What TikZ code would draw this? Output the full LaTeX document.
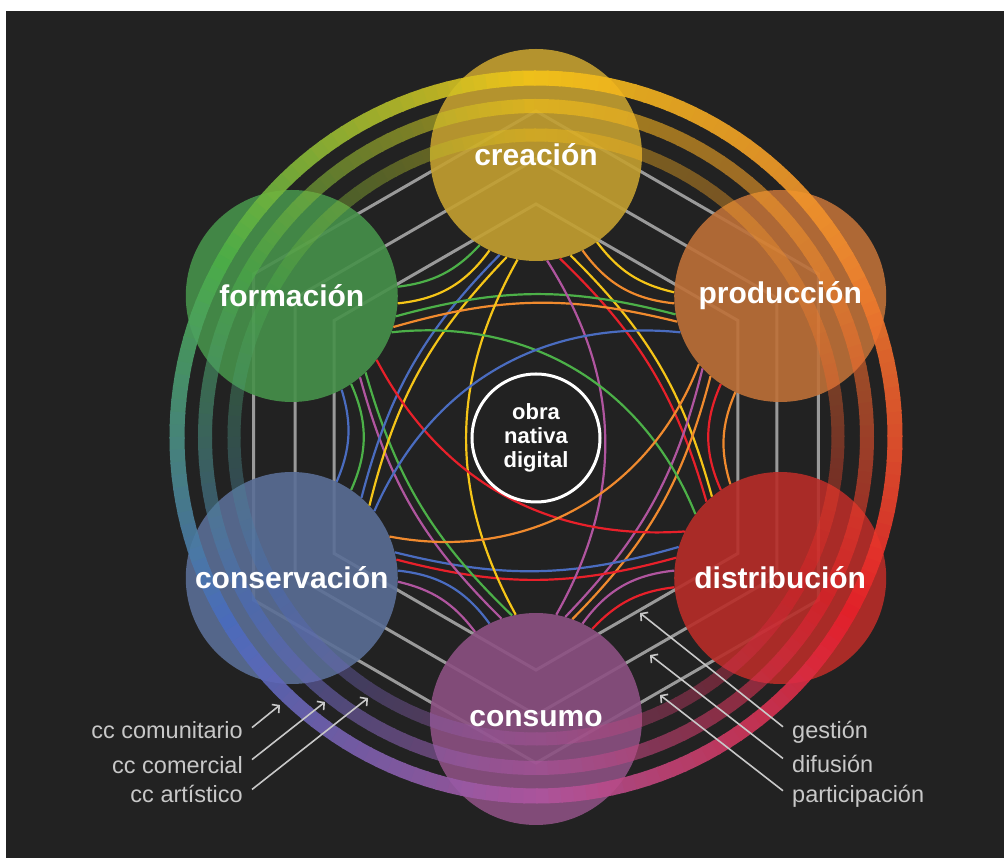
\documentclass[tikz,border=0pt]{standalone}
\usepackage{fontspec}
\setmainfont{Liberation Sans}
\usetikzlibrary{arrows.meta}
\definecolor{bgdark}{HTML}{222222}
\definecolor{crecol}{HTML}{C4A030}
\definecolor{procol}{HTML}{BE7038}
\definecolor{discol}{HTML}{B82D28}
\definecolor{cnmcol}{HTML}{8C5082}
\definecolor{cnscol}{HTML}{5A6E96}
\definecolor{forcol}{HTML}{46914A}
\definecolor{rcre}{HTML}{F5C518}
\definecolor{rpro}{HTML}{F08A2E}
\definecolor{rdis}{HTML}{E8202A}
\definecolor{rcnm}{HTML}{B0559F}
\definecolor{rcns}{HTML}{4A6CC0}
\definecolor{rfor}{HTML}{4CB048}
\definecolor{hexgrey}{HTML}{9A9A9A}
\definecolor{notegrey}{HTML}{C8C8C8}
\tikzset{stage/.style={circle, minimum size=212pt, inner sep=0pt, fill opacity=0.9},
  stagetext/.style={text=white, font=\bfseries\fontsize{30}{30}\selectfont},
  link/.style={line width=2.2pt},
  hexline/.style={draw=hexgrey, line width=3pt},
  note/.style={text=notegrey, inner sep=0pt, font=\fontsize{23.5}{23.5}\selectfont},
  pointer/.style={draw=notegrey, line width=1.6pt, -{Straight Barb[length=5pt, width=11pt]}}}

\begin{document}
\begin{tikzpicture}[x=1pt, y=1pt]
  \fill[white] (-536,-421) rectangle (468,437);
  \fill[bgdark] (-530,-421) rectangle (468,426);
  \foreach \r in {233,278,326}
    \draw[hexline] (90:\r) -- (30:\r) -- (-30:\r) -- (-90:\r) -- (-150:\r) -- (150:\r) -- cycle;
  \foreach \n/\a/\c in {cre/90/crecol, pro/30/procol, dis/-30/discol, cnm/-90/cnmcol, cns/-150/cnscol, for/150/forcol}
    \node[stage, fill=\c] (\n) at (\a:282) {};
  % neighbours, bent inwards
  \foreach \p/\pa/\q/\qa/\c/\b in {cre/305/pro/178/rcre/20, cre/296/pro/184/rpro/24,
      pro/245/dis/118/rpro/20, pro/236/dis/124/rdis/24, dis/185/cnm/58/rdis/20, dis/176/cnm/64/rcnm/24,
      cnm/125/cns/358/rcnm/20, cnm/116/cns/4/rcns/24, cns/65/for/298/rcns/20, cns/56/for/304/rfor/24,
      for/5/cre/238/rfor/20, for/356/cre/244/rcre/24}
    \draw[link, draw=\c] (\p.\pa) to[bend right=\b] (\q.\qa);
  % second neighbours, bent outwards
  \foreach \p/\pa/\q/\qa/\c in {cre/289/dis/130/rcre, cre/283/dis/134/rdis, pro/229/cnm/70/rpro, pro/223/cnm/74/rcnm,
      dis/169/cns/10/rdis, dis/163/cns/14/rcns, cnm/109/for/310/rcnm, cnm/103/for/314/rfor,
      cns/49/cre/250/rcns, cns/43/cre/254/rcre, for/349/pro/190/rfor, for/343/pro/194/rpro}
    \draw[link, draw=\c] (\p.\pa) to[bend left=15] (\q.\qa);
  % opposites
  \draw[link, draw=rcre] (cre.260) to[bend right=29] (cnm.101);
  \draw[link, draw=rcnm] (cre.276) to[bend left=31] (cnm.79);
  \draw[link, draw=rfor] (for.-20) to[bend left=37] (dis.143);
  \draw[link, draw=rdis] (for.-37) to[bend right=33] (dis.154);
  \draw[link, draw=rcns] (pro.200) to[bend right=36] (cns.39);
  \draw[link, draw=rpro] (pro.220) to[bend left=40] (cns.23);
  \foreach \r/\w/\o in {359/15/0.9, 331/14/0.6, 302/13/0.42} {
    \begin{scope}[transparency group, opacity=\o]
      \foreach \s/\ca/\cb in {0/rcre/rfor, 1/rfor/rcns, 2/rcns/rcnm, 3/rcnm/rdis, 4/rdis/rpro, 5/rpro/rcre}
        \foreach \i in {0,...,29} {
          \pgfmathtruncatemacro\m{100-\i*100/30}
          \draw[line width=\w pt, draw=\ca!\m!\cb] (90+\s*60+\i*2:\r) arc[start angle=90+\s*60+\i*2, delta angle=2.3, radius=\r];
        }
    \end{scope}
  }
  \foreach \n/\t in {cre/creación, pro/producción, dis/distribución, cnm/consumo, cns/conservación, for/formación}
    \node[stagetext] (\n-t) at (\n) {\t};
  \node[circle, draw=white, line width=3pt, minimum size=128pt, text=white, align=center,
    font=\bfseries\fontsize{22}{24}\selectfont] (obra) at (0,-1) {obra\\nativa\\digital};
  \node[note, anchor=base east] (ccu) at (-293,-302) {cc comunitario};
  \node[note, anchor=base east] (ccm) at (-293,-337) {cc comercial};
  \node[note, anchor=base east] (cca) at (-293,-366) {cc artístico};
  \node[note, anchor=base west] (ges) at (256,-302) {gestión};
  \node[note, anchor=base west] (dif) at (256,-336) {difusión};
  \node[note, anchor=base west] (par) at (256,-366) {participación};
  \coordinate (ccu-p) at (-256,-268);
  \coordinate (ccm-p) at (-211,-265);
  \coordinate (cca-p) at (-168,-261);
  \coordinate (ges-p) at (104,-176);
  \coordinate (dif-p) at (114,-218);
  \coordinate (par-p) at (124,-258);
  \draw[pointer] ([shift={(9,3)}]ccu.east) -- (ccu-p);
  \draw[pointer] ([shift={(9,6)}]ccm.east) -- (ccm-p);
  \draw[pointer] ([shift={(9,5)}]cca.east) -- (cca-p);
  \draw[pointer] ([shift={(-9,6)}]ges.west) -- (ges-p);
  \draw[pointer] ([shift={(-9,6)}]dif.west) -- (dif-p);
  \draw[pointer] ([shift={(-9,6)}]par.west) -- (par-p);
\end{tikzpicture}
\end{document}
